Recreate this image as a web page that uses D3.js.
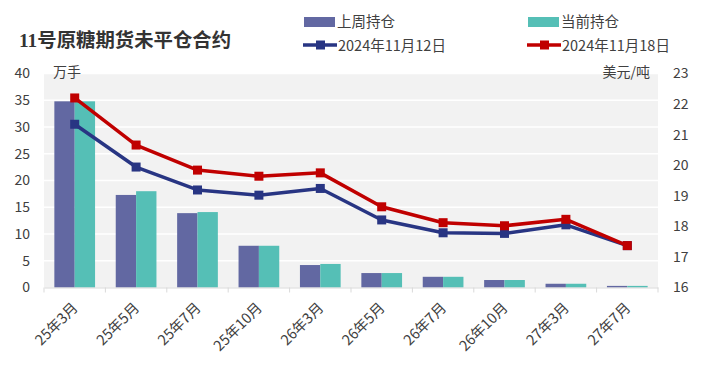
<!DOCTYPE html>
<html><head><meta charset="utf-8">
<script src="https://cdn.jsdelivr.net/npm/d3@7"></script>
<style>body{margin:0;background:#fff}svg{display:block}</style>
</head><body><svg id="c" width="706" height="368"></svg>
<script>
const categories = ["25年3月","25年5月","25年7月","25年10月","26年3月","26年5月","26年7月","26年10月","27年3月","27年7月"];
const lastWeekOI = [34.8,17.3,13.9,7.8,4.2,2.7,2.0,1.4,0.7,0.3];
const currentOI  = [34.8,18.0,14.1,7.8,4.4,2.7,2.0,1.4,0.7,0.3];
const price1112 = [21.34,19.94,19.19,19.02,19.24,18.21,17.79,17.77,18.05,17.37];
const price1118 = [22.20,20.66,19.84,19.64,19.75,18.64,18.12,18.02,18.23,17.37];
const leftTicks = [0,5,10,15,20,25,30,35,40];
const rightTicks = [16,17,18,19,20,21,22,23];

const svg = d3.select("#c");
const L=44,R=658,T=73.5,B=287.5;
const cjk = "'Noto Sans CJK SC','Noto Sans',sans-serif";
const x = d3.scaleBand().domain(categories).range([L,R]).paddingInner(0.337).paddingOuter(0.1685);
const xs = d3.scaleBand().domain([0,1]).range([0,x.bandwidth()]);
const yL = d3.scaleLinear().domain([0,40]).range([B,T]);
const yR = d3.scaleLinear().domain([16,23]).range([B,T]);

svg.append("rect").attr("x",L).attr("y",T).attr("width",R-L).attr("height",B-T).attr("fill","#f2f2f2");
svg.append("g").selectAll("line").data(leftTicks.slice(1)).join("line")
  .attr("x1",L).attr("x2",R).attr("y1",d=>yL(d)).attr("y2",d=>yL(d)).attr("stroke","#fff").attr("stroke-width",1.5);

// bars
const series=[{v:lastWeekOI,c:"#6268a2"},{v:currentOI,c:"#55bfb6"}];
series.forEach((s,i)=>{
  svg.append("g").selectAll("rect").data(categories).join("rect")
    .attr("x",d=>x(d)+xs(i)).attr("width",xs.bandwidth())
    .attr("y",(d,j)=>yL(s.v[j])).attr("height",(d,j)=>B-yL(s.v[j])).attr("fill",s.c);
});

// axes
const ax = svg.append("g").attr("transform",`translate(0,${B})`).call(d3.axisBottom(x).tickSize(0).tickFormat(""));
ax.select(".domain").attr("stroke","#d9d9d9");
const tickPos = d3.range(categories.length+1).map(i=>L+i*x.step());
svg.append("g").selectAll("line").data(tickPos).join("line")
  .attr("x1",d=>d).attr("x2",d=>d).attr("y1",B).attr("y2",B+5).attr("stroke","#d9d9d9");
svg.append("g").selectAll("text").data(categories).join("text")
  .attr("transform",d=>`translate(${x(d)+x.bandwidth()/2-3},${B+14}) rotate(-45)`)
  .attr("text-anchor","end").attr("dy","0.7em").attr("font-family",cjk).attr("font-size",14.5).attr("fill","#404040").text(d=>d);

const axL = svg.append("g").attr("transform",`translate(${L},0)`).call(d3.axisLeft(yL).tickValues(leftTicks).tickSize(0).tickPadding(14));
axL.select(".domain").remove();
axL.selectAll("text").attr("font-family",cjk).attr("font-size",14).attr("fill","#404040");
const axR = svg.append("g").attr("transform",`translate(${R},0)`).call(d3.axisRight(yR).tickValues(rightTicks).tickFormat(d3.format("d")).tickSize(0).tickPadding(15));
axR.select(".domain").remove();
axR.selectAll("text").attr("font-family",cjk).attr("font-size",14).attr("fill","#404040");

// lines
const lines=[{v:price1112,c:"#283583"},{v:price1118,c:"#c00000"}];
lines.forEach(s=>{
  const pts = categories.map((d,j)=>[x(d)+x.bandwidth()/2, yR(s.v[j])]);
  svg.append("path").attr("d",d3.line()(pts)).attr("fill","none").attr("stroke",s.c).attr("stroke-width",3.5).attr("stroke-linejoin","round");
  svg.append("g").selectAll("rect").data(pts).join("rect")
    .attr("x",p=>p[0]-4.5).attr("y",p=>p[1]-4.5).attr("width",9).attr("height",9).attr("fill",s.c);
});

// unit labels
svg.append("text").attr("x",53).attr("y",77).attr("font-family",cjk).attr("font-size",14).attr("fill","#404040").text("万手");
svg.append("text").attr("x",650).attr("y",77).attr("text-anchor","end").attr("font-family",cjk).attr("font-size",14).attr("fill","#404040").text("美元/吨");

// title
svg.append("text").attr("x",19).attr("y",47).attr("font-family","'Liberation Serif','Noto Sans CJK SC',serif").attr("font-weight","bold").attr("font-size",19)
  .attr("textLength",212).attr("lengthAdjust","spacingAndGlyphs").attr("fill","#333").text("11号原糖期货未平仓合约");

// legend
const leg = svg.append("g").attr("font-family",cjk).attr("font-size",14.5).attr("fill","#404040");
const barLeg=[{t:"上周持仓",c:"#6268a2",x:304},{t:"当前持仓",c:"#55bfb6",x:528}];
barLeg.forEach(d=>{
  leg.append("rect").attr("x",d.x).attr("y",17).attr("width",31).attr("height",10).attr("fill",d.c);
  leg.append("text").attr("x",d.x+33).attr("y",27).text(d.t);
});
const lineLeg=[{t:"2024年11月12日",c:"#283583",x:303},{t:"2024年11月18日",c:"#c00000",x:527}];
lineLeg.forEach(d=>{
  leg.append("line").attr("x1",d.x).attr("x2",d.x+34).attr("y1",45).attr("y2",45).attr("stroke",d.c).attr("stroke-width",3.5);
  leg.append("rect").attr("x",d.x+13).attr("y",40.5).attr("width",9).attr("height",9).attr("fill",d.c);
  leg.append("text").attr("x",d.x+35).attr("y",51).text(d.t);
});
</script></body></html>
